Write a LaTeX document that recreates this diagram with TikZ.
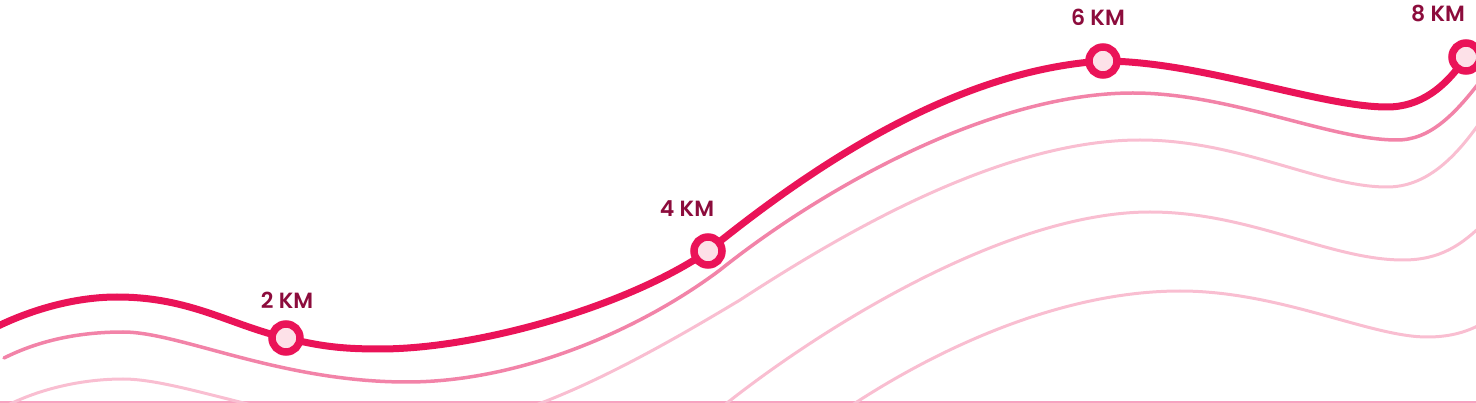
\documentclass[tikz,border=0pt]{standalone}
\usepackage{fontspec}
\setmainfont{Poppins}
\newfontfamily\lblfont{Poppins SemiBold}
\definecolor{mainc}{RGB}{234,19,88}
\definecolor{midc}{RGB}{242,131,168}
\definecolor{lightc}{RGB}{249,190,209}
\definecolor{basec}{RGB}{247,163,192}
\definecolor{dotfill}{RGB}{253,225,232}
\definecolor{lblc}{RGB}{140,12,60}
\tikzset{
  mainline/.style={draw=mainc, line width=7pt, line cap=round},
  midline/.style={draw=midc, line width=3.5pt, line cap=round},
  lightline/.style={draw=lightc, line width=3pt, line cap=round},
  baseline/.style={draw=basec, line width=1.5pt},
  marker/.style={circle, draw=mainc, fill=dotfill, line width=7.5pt, minimum size=28pt, inner sep=0pt},
  kmlabel/.style={text=lblc, font=\lblfont\fontsize{22}{25}\selectfont, inner sep=0pt}
}
\begin{document}
\begin{tikzpicture}[x=1pt,y=-1pt]
\useasboundingbox (0,0) rectangle (1476,403);
\begin{scope}
\clip (0,0) rectangle (1476,403);
% base line
\coordinate (bl) at (0,402);
\coordinate (br) at (1476,402);
\draw[baseline] (bl) -- (br);
% light curves
\draw[lightline] (-10,415) .. controls (30,390) and (80,379) .. (123,379)
  .. controls (185,379) and (300,430) .. (420,430)
  .. controls (515,430) and (640,360) .. (740,300)
  .. controls (840,235) and (1000,140) .. (1140,140)
  .. controls (1240,140) and (1320,187) .. (1387,187)
  .. controls (1425,187) and (1455,160) .. (1485,115);
\draw[lightline] (700,425) .. controls (800,340) and (1000,212) .. (1150,212)
  .. controls (1250,212) and (1330,260) .. (1403,260)
  .. controls (1440,260) and (1462,245) .. (1485,222);
\draw[lightline] (830,420) .. controls (930,350) and (1060,291) .. (1180,291)
  .. controls (1280,291) and (1370,337) .. (1427,337)
  .. controls (1450,337) and (1468,332) .. (1485,322);
% middle curve
\draw[midline] (4,358) .. controls (40,340) and (80,332) .. (123,332)
  .. controls (180,332) and (280,382) .. (407,382)
  .. controls (520,382) and (640,330) .. (720,270)
  .. controls (820,190) and (990,93) .. (1133,93)
  .. controls (1230,93) and (1330,140) .. (1397,140)
  .. controls (1430,140) and (1455,115) .. (1485,75);
% main curve through markers
\coordinate (m2) at (286,338);
\coordinate (m4) at (708,251);
\coordinate (m6) at (1103,61);
\coordinate (m8) at (1466,57);
\draw[mainline] (-10,330) .. controls (35,307) and (80,297) .. (117,297)
  .. controls (190,297) and (230,325) .. (m2)
  .. controls (320,346) and (340,349) .. (380,349)
  .. controls (480,349) and (630,305) .. (m4)
  .. controls (820,160) and (960,70) .. (m6)
  .. controls (1200,61) and (1320,107) .. (1387,107)
  .. controls (1420,107) and (1445,88) .. (m8);
\node[marker] (n2) at (m2) {};
\node[marker] (n4) at (m4) {};
\node[marker] (n6) at (m6) {};
\node[marker] (n8) at (m8) {};
\end{scope}
\node[kmlabel] (l2) at (287,300) {2 KM};
\node[kmlabel] (l4) at (687,209) {4 KM};
\node[kmlabel] (l6) at (1098,17) {6 KM};
\node[kmlabel] (l8) at (1438,14) {8 KM};
\end{tikzpicture}
\end{document}
